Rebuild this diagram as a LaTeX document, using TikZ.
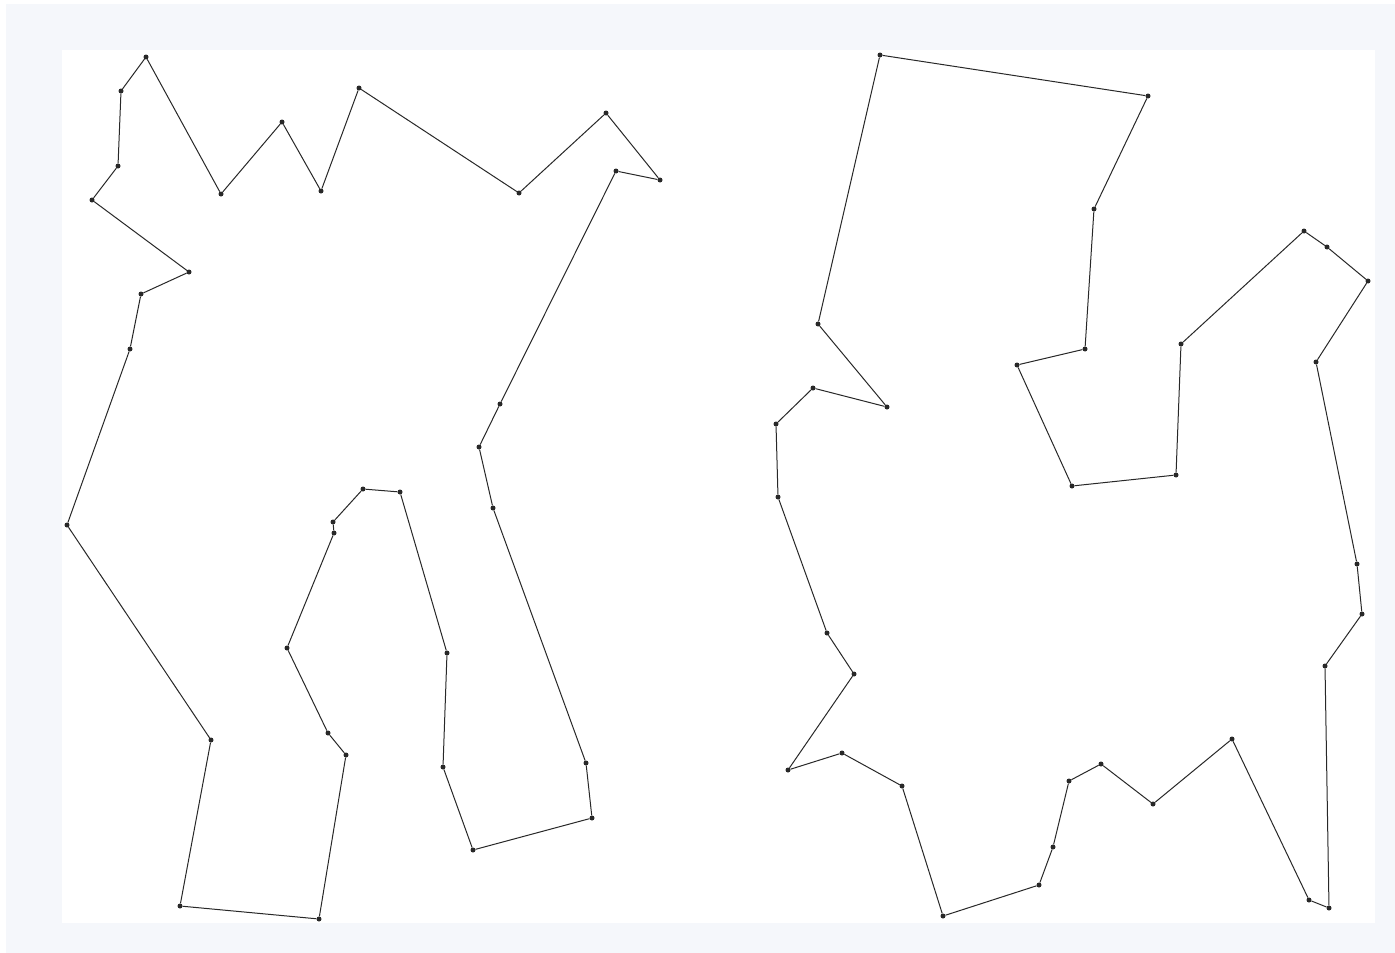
\documentclass[tikz,border=0pt]{standalone}
\usepackage{tikz}
\usetikzlibrary{positioning}
\definecolor{frame}{RGB}{245, 247, 251}
\definecolor{ink}{RGB}{40, 40, 40}
\tikzstyle{pt} = [circle, fill=ink, draw=none, inner sep=0pt, minimum size=5pt]
\tikzstyle{edge} = [draw=ink, line width=1pt]

\begin{document}
\begin{tikzpicture}[x=1pt, y=-1pt]

% canvas =============================
\useasboundingbox (0,0) rectangle (1395,953);
\fill[frame] (6,4) rectangle (1395,953);
\fill[white] (62,50) rectangle (1375,923);

% left polygon
\foreach \x/\y [count=\i] in {146/57, 221/194, 282/122, 321/191, 359/88, 519/193,
    606/113, 660/180, 616/171, 500/404, 479/447, 493/508, 586/763, 592/818,
    473/850, 443/767, 447/653, 400/492, 363/489, 333/522, 334/533, 287/648,
    328/733, 346/755, 319/919, 180/906, 211/740, 67/525, 130/349, 141/294,
    189/272, 92/200, 118/166, 121/91}
  \node[pt] (a\i) at (\x,\y) {};

% right polygon
\foreach \x/\y [count=\i] in {880/55, 1148/96, 1094/209, 1085/349, 1017/365,
    1072/486, 1176/475, 1181/344, 1304/231, 1327/247, 1368/281, 1316/362,
    1357/564, 1362/614, 1325/666, 1329/908, 1309/900, 1232/739, 1153/804,
    1101/764, 1069/781, 1053/847, 1039/885, 943/916, 902/786, 842/753,
    788/770, 854/674, 827/633, 778/497, 776/424, 813/388, 887/407, 818/324}
  \node[pt] (b\i) at (\x,\y) {};

% edges
\foreach \i [remember=\i as \j (initially 34)] in {1,...,34} {
  \draw[edge] (a\j) -- (a\i);
  \draw[edge] (b\j) -- (b\i);
}

\end{tikzpicture}
\end{document}
